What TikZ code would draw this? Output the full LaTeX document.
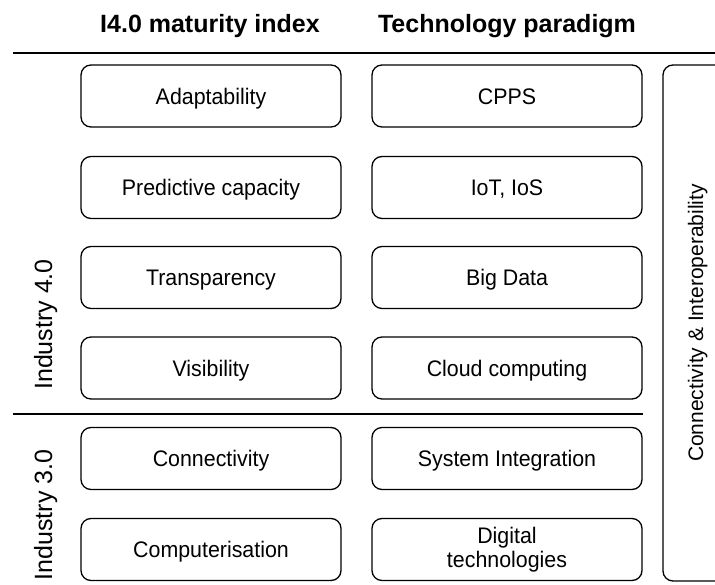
\documentclass[tikz,border=0pt]{standalone}
\usepackage{fontspec}
\setmainfont{Liberation Sans}
\newfontfamily\boxfont[FakeStretch=0.95]{Liberation Sans}
\begin{document}
\begin{tikzpicture}[x=1pt,y=-1pt,
  box/.style={draw, line width=1.3pt, rounded corners=10pt, minimum height=62pt,
    inner sep=0pt, font=\boxfont\fontsize{22.5}{24}\selectfont, text height=16.1pt, text depth=0pt},
  boxA/.style={box, minimum width=260pt},
  boxB/.style={box, minimum width=270pt},
  boxB2/.style={boxB, align=center, text height={}, text depth={}},
  header/.style={font=\fontsize{25}{30}\selectfont\bfseries, anchor=base, inner sep=0pt},
  side/.style={font=\fontsize{25}{30}\selectfont, rotate=90, anchor=base, inner sep=0pt},
  rule/.style={line width=1.5pt}]
\useasboundingbox (0,0) rectangle (715,585);

\node[header] (h1) at (210,33) {I4.0 maturity index};
\node[header] (h2) at (507,33) {Technology paradigm};

\coordinate (tl) at (13,53);
\coordinate (tr) at (716,53);
\draw[rule] (tl) -- (tr);

\node[boxA] (a1) at (211,96) {Adaptability};
\node[boxA] (a2) at (211,187.5) {Predictive capacity};
\node[boxA] (a3) at (211,277.5) {Transparency};
\node[boxA] (a4) at (211,368) {Visibility};
\node[boxA] (a5) at (211,458.5) {Connectivity};
\node[boxA] (a6) at (211,549.5) {Computerisation};

\node[boxB] (b1) at (507,96) {CPPS};
\node[boxB] (b2) at (507,187.5) {IoT, IoS};
\node[boxB] (b3) at (507,277.5) {Big Data};
\node[boxB] (b4) at (507,368) {Cloud computing};
\node[boxB] (b5) at (507,458.5) {System Integration};
\node[boxB2] (b6) at (507,549.5) {Digital\\technologies};

\coordinate (ml) at (13,414);
\draw[rule] (ml) -- (ml -| b4.east);

\node[side] (i4) at (52,324.5) {Industry 4.0};
\node[side] (i3) at (52,515) {Industry 3.0};

\node[draw, line width=1.3pt, rounded corners=10pt, rotate=90, minimum width=516pt,
  minimum height=65pt, inner sep=0pt, font=\fontsize{21}{25}\selectfont,
  text height=15pt, text depth=0pt] (ci) at (695.5,323) {Connectivity \& Interoperability};
\end{tikzpicture}
\end{document}
